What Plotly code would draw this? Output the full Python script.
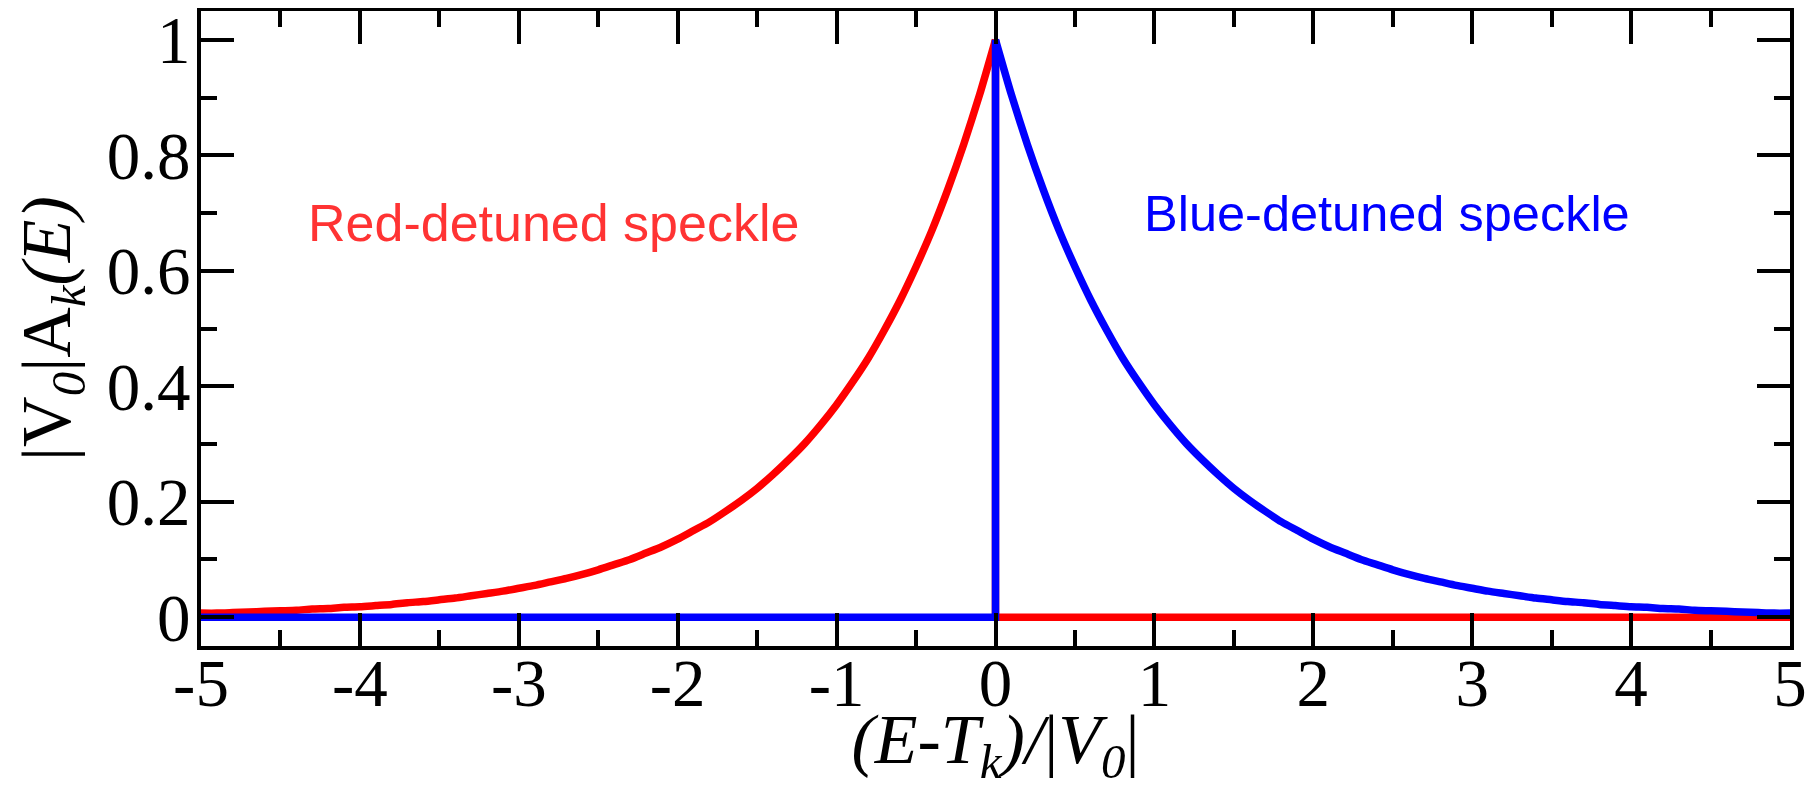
import plotly.graph_objects as go

# x grid for the curves (at 0.1 steps)
x_pos = [round(i * 0.1, 1) for i in range(51)]          # 0 .. 5
x_neg = [round(-5 + i * 0.1, 1) for i in range(51)]     # -5 .. 0

# Blue-detuned speckle: values for x >= 0
blue_vals = [1.000, 0.905, 0.819, 0.741, 0.670, 0.607, 0.549, 0.497, 0.449, 0.407,
             0.368, 0.333, 0.301, 0.273, 0.247, 0.223, 0.202, 0.183, 0.165, 0.150,
             0.135, 0.122, 0.111, 0.100, 0.091, 0.082, 0.074, 0.067, 0.061, 0.055,
             0.050, 0.045, 0.041, 0.037, 0.033, 0.030, 0.027, 0.025, 0.022, 0.020,
             0.018, 0.017, 0.015, 0.014, 0.012, 0.011, 0.010, 0.009, 0.008, 0.007,
             0.007]

# Red-detuned speckle: values for x <= 0, from x=-5 to 0
red_vals = [0.007, 0.007, 0.008, 0.009, 0.010, 0.011, 0.012, 0.014, 0.015, 0.017,
            0.018, 0.020, 0.022, 0.025, 0.027, 0.030, 0.033, 0.037, 0.041, 0.045,
            0.050, 0.055, 0.061, 0.067, 0.074, 0.082, 0.091, 0.100, 0.111, 0.122,
            0.135, 0.150, 0.165, 0.183, 0.202, 0.223, 0.247, 0.273, 0.301, 0.333,
            0.368, 0.407, 0.449, 0.497, 0.549, 0.607, 0.670, 0.741, 0.819, 0.905,
            1.000]

# flat (zero) segments
red_flat_x = [0.0, 0.0, 5.0]
red_flat_y = [1.0, 0.0, 0.0]
blue_flat_x = [-5.0, 0.0, 0.0]
blue_flat_y = [0.0, 0.0, 1.0]

x_ticks = [-5, -4, -3, -2, -1, 0, 1, 2, 3, 4, 5]
y_ticks = [0, 0.2, 0.4, 0.6, 0.8, 1]
y_tick_text = ["0", "0.2", "0.4", "0.6", "0.8", "1"]

LW = 7.5
fig = go.Figure()
fig.add_trace(go.Scatter(x=x_neg, y=red_vals, mode="lines",
                         line=dict(color="#ff0000", width=LW, shape="spline", smoothing=0.6),
                         showlegend=False))
fig.add_trace(go.Scatter(x=red_flat_x, y=red_flat_y, mode="lines",
                         line=dict(color="#ff0000", width=LW), showlegend=False))
fig.add_trace(go.Scatter(x=blue_flat_x, y=blue_flat_y, mode="lines",
                         line=dict(color="#0000ff", width=LW), showlegend=False))
fig.add_trace(go.Scatter(x=x_pos, y=blue_vals, mode="lines",
                         line=dict(color="#0000ff", width=LW, shape="spline", smoothing=0.6),
                         showlegend=False))

fig.add_annotation(x=-4.34, y=0.682, xref="x", yref="y", text="Red-detuned speckle",
                   showarrow=False, xanchor="left", yanchor="middle",
                   font=dict(family="Liberation Sans", size=52, color="#ff3333"))
fig.add_annotation(x=0.92, y=0.699, xref="x", yref="y", text="Blue-detuned speckle",
                   showarrow=False, xanchor="left", yanchor="middle",
                   font=dict(family="Liberation Sans", size=50.5, color="#0000ff"))

axis_common = dict(
    showline=True, linewidth=4, linecolor="black", mirror="allticks",
    ticks="inside", ticklen=33, tickwidth=4, tickcolor="black",
    showgrid=False, zeroline=False, ticklabeloverflow="allow",
    tickfont=dict(family="Liberation Serif", size=67, color="black"),
)

fig.update_xaxes(
    range=[-5, 5], tickvals=x_ticks, ticktext=[str(v) for v in x_ticks],
    minor=dict(dtick=0.5, ticks="inside", ticklen=16, tickwidth=4, tickcolor="black"),
    title=dict(text="<i>(E-T</i><sub><i>k</i></sub><i>)/</i>|<i>V</i><sub><i>0</i></sub>|",
               font=dict(family="Liberation Serif", size=70, color="black"), standoff=2),
    ticklabelstandoff=-24,
    **axis_common,
)
fig.update_yaxes(
    range=[-0.05, 1.05], tickvals=y_ticks, ticktext=y_tick_text,
    minor=dict(dtick=0.1, ticks="inside", ticklen=16, tickwidth=4, tickcolor="black"),
    title=dict(text="|V<sub><i>0</i></sub>|A<sub><i>k</i></sub><i>(E)</i>",
               font=dict(family="Liberation Serif", size=70, color="black"), standoff=19),
    ticklabelstandoff=-7,
    **axis_common,
)

# page body adds an 8px margin, so the figure is laid out 8px smaller/offset
fig.update_layout(
    width=1800, height=781,
    margin=dict(l=193, r=18, t=3, b=143, autoexpand=False),
    plot_bgcolor="white", paper_bgcolor="white",
)

fig.write_html("out.html")
